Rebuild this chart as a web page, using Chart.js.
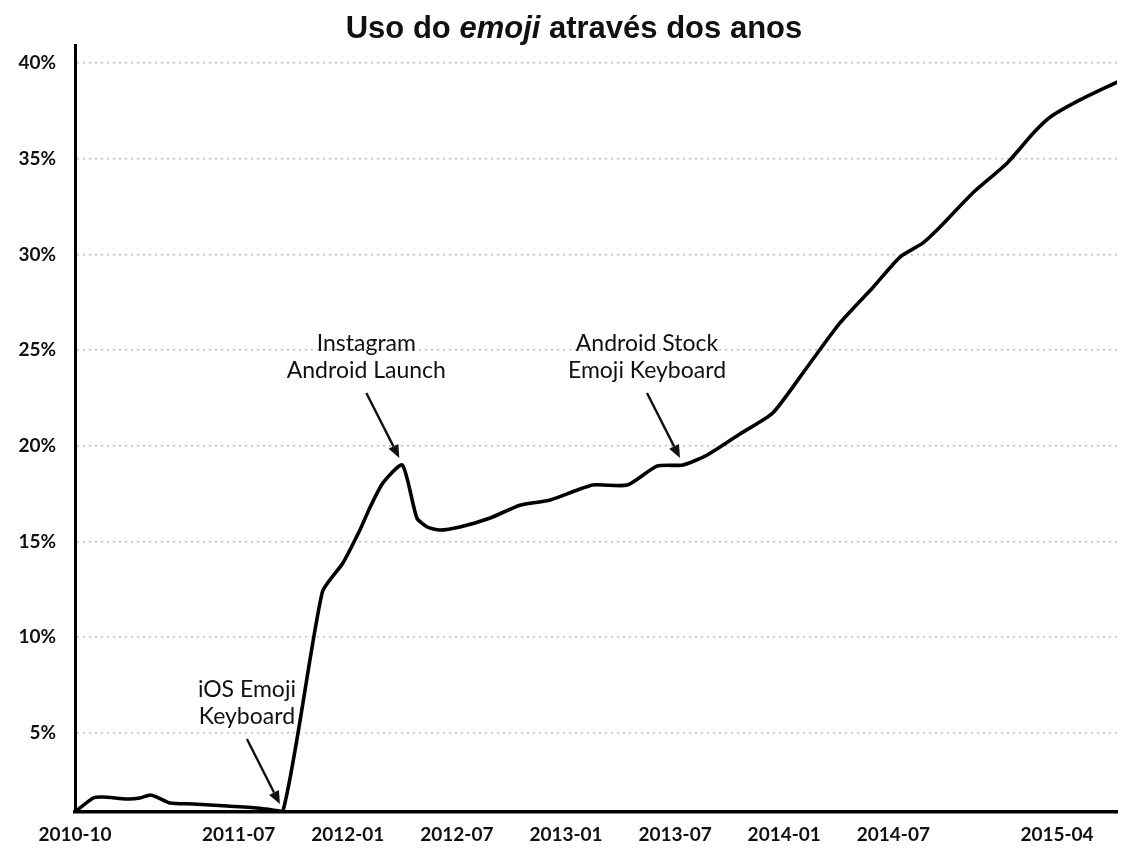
<!DOCTYPE html>
<html><head><meta charset="utf-8">
<script src="https://cdn.jsdelivr.net/npm/chart.js@4"></script>
<style>
html,body{margin:0;padding:0;background:#fff;}
#wrap{position:relative;width:1121px;height:851px;}
#title{position:absolute;top:10px;left:574px;transform:translateX(-50%);font:bold 31px "Liberation Sans",Arial,sans-serif;white-space:nowrap;color:#111;}
canvas{position:absolute;left:0;top:0;}
</style></head><body>
<div id="wrap"><canvas id="c" width="1121" height="851"></canvas><div id="title">Uso do <i>emoji</i> através dos anos</div></div>
<script>
// Data
const dates = ['2010-10-01','2010-11-01','2010-11-17','2010-12-27','2011-01-18','2011-02-05','2011-02-16','2011-03-08','2011-04-16','2011-06-12','2011-08-06','2011-09-14',
  '2011-11-19','2011-12-23','2012-01-21','2012-02-08','2012-02-29','2012-03-31','2012-04-25','2012-05-12','2012-06-03','2012-07-06','2012-08-26','2012-10-15','2012-12-05',
  '2013-02-15','2013-04-12','2013-06-01','2013-07-14','2013-08-24','2013-10-18','2013-12-12','2014-02-09','2014-04-03','2014-05-28','2014-07-12','2014-08-20','2014-09-18',
  '2014-11-12','2015-01-09','2015-02-22','2015-03-20','2015-05-09','2015-07-10'];
const usage = [0.87,1.6,1.65,1.55,1.6,1.76,1.65,1.34,1.29,1.18,1.07,0.92,
  12.36,13.88,15.6,16.8,18.06,19.0,16.23,15.76,15.6,15.76,16.23,16.9,17.17,
  17.95,17.95,18.94,19.0,19.52,20.62,21.71,24.12,26.42,28.3,29.86,30.6,31.43,
  33.21,34.78,36.34,37.18,38.07,39.0];
const xTickLabels = ['2010-10','2011-07','2012-01','2012-07','2013-01','2013-07','2014-01','2014-07','2015-04'];
const yTickValues = [5,10,15,20,25,30,35,40];
const annotations = [
  {date:'2011-09-14', lines:['iOS Emoji','Keyboard']},
  {date:'2012-03-31', lines:['Instagram','Android Launch']},
  {date:'2013-07-14', lines:['Android Stock','Emoji Keyboard']}
];
const yMin = 0.87, yMax = 40.94;
const xEnd = '2015-07-10';

function monthIndex(s){
  const p = s.split('-').map(Number);
  return (p[0]-2010)*12 + (p[1]-10) + ((p[2]||1)-1)/30;
}

const notesPlugin = {
  id:'notes',
  afterDatasetsDraw(chart){
    const ctx = chart.ctx, x = chart.scales.x, y = chart.scales.y;
    annotations.forEach(a=>{
      const i = dates.indexOf(a.date);
      const px = x.getPixelForValue(monthIndex(a.date));
      const py = y.getPixelForValue(usage[i]);
      const tipX = px-3, tipY = py-7, tailX = px-36, tailY = py-72;
      ctx.save();
      ctx.strokeStyle = '#111'; ctx.fillStyle = '#111'; ctx.lineWidth = 2.4;
      const ang = Math.atan2(tipY-tailY, tipX-tailX);
      const hl = 13, hw = 5.5;
      const bx = tipX - hl*Math.cos(ang), by = tipY - hl*Math.sin(ang);
      ctx.beginPath(); ctx.moveTo(tailX, tailY); ctx.lineTo(bx, by); ctx.stroke();
      ctx.beginPath(); ctx.moveTo(tipX, tipY);
      ctx.lineTo(bx + hw*Math.sin(ang), by - hw*Math.cos(ang));
      ctx.lineTo(bx - hw*Math.sin(ang), by + hw*Math.cos(ang));
      ctx.closePath(); ctx.fill();
      ctx.font = '23px Lato'; ctx.textAlign = 'center'; ctx.textBaseline = 'middle'; ctx.fillStyle = '#111';
      a.lines.forEach((t,k)=>ctx.fillText(t, px-36, py-121+27*k));
      ctx.restore();
    });
  }
};

new Chart(document.getElementById('c'), {
  type:'line',
  data:{datasets:[{
    data: dates.map((d,i)=>({x: monthIndex(d), y: usage[i]})),
    borderColor:'#000', borderWidth:3.6, pointRadius:0, fill:false,
    tension:0.2, borderJoinStyle:'round', borderCapStyle:'round'
  }]},
  options:{
    responsive:false, animation:false,
    layout:{padding:{top:45,right:4,left:0,bottom:0}},
    plugins:{legend:{display:false}, tooltip:{enabled:false}},
    scales:{
      x:{type:'linear', min:0, max:monthIndex(xEnd),
        afterBuildTicks(axis){ axis.ticks = xTickLabels.map(l=>({value: monthIndex(l)})); },
        afterFit(scale){ scale.height = 39; },
        grid:{display:false, drawTicks:false},
        border:{display:true, color:'#000', width:3.5},
        ticks:{autoSkip:false, maxRotation:0, padding:11, color:'#111',
          font:{family:'Lato', weight:'bold', size:19},
          callback(v){ const l = xTickLabels.find(s=>Math.abs(monthIndex(s)-v)<0.01); return l||''; }}
      },
      y:{type:'linear', min:yMin, max:yMax,
        afterBuildTicks(axis){ axis.ticks = yTickValues.map(v=>({value:v})); },
        afterFit(scale){ scale.width = 75; },
        grid:{color:'#bdbdbd', lineWidth:1.5, drawTicks:false},
        border:{display:true, color:'#000', width:3, dash:[2,4]},
        ticks:{padding:19, color:'#111', font:{family:'Lato', weight:'bold', size:19},
          callback(v){ return v+'%'; }}
      }
    }
  },
  plugins:[notesPlugin]
});
</script>
</body></html>
